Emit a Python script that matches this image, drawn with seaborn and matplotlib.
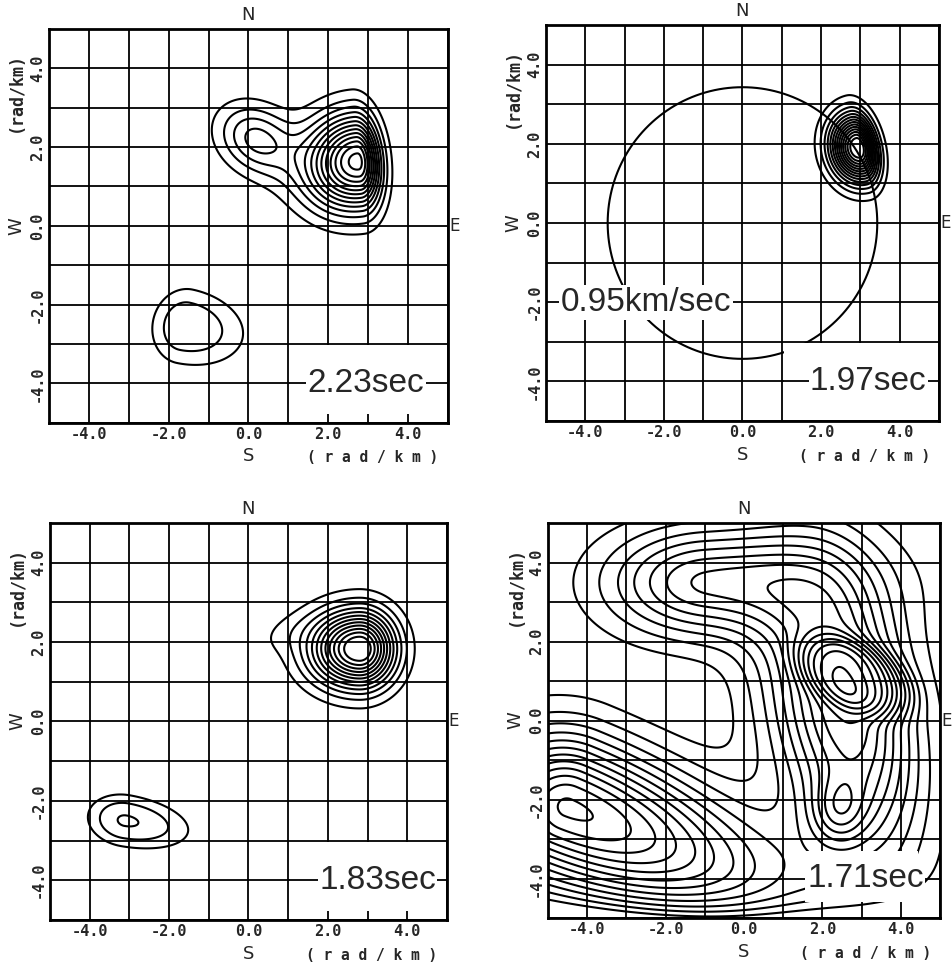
import numpy as np
import pandas as pd
import matplotlib
matplotlib.use("Agg")
import matplotlib.pyplot as plt
import matplotlib.transforms as mtransforms
from matplotlib.patches import Rectangle
import seaborn as sns

# grid / axes
GRID = np.arange(-5, 6)
TICKS = [-4, -2, 0, 2, 4]
TICK_LABELS = ["-4.0", "-2.0", "0.0", "2.0", "4.0"]
PERIOD_LABELS = ["2.23sec", "1.97sec", "1.83sec", "1.71sec"]
PERIOD_LABEL_X = [2.95, 3.2, 3.25, 3.1]

# spectral peaks: centre, amplitude, widths (left/right along u, v),
# tilt in degrees and profile exponent
P1_X = [2.75, 0.2, -1.6, 1.8]
P1_Y = [1.65, 2.2, -2.55, 0.9]
P1_AMP = [0.93, 0.30, 0.18, 0.06]
P1_SUL = [0.85, 0.70, 0.65, 1.0]
P1_SUR = [0.37, 0.70, 1.20, 0.8]
P1_SV = [0.80, 0.55, 0.77, 0.6]
P1_ROT = [5, -35, -12, -25]
P1_POW = [2, 2, 3, 2]
P1_LEVELS = [0.07, 0.14, 0.21, 0.28, 0.35, 0.42, 0.49, 0.56, 0.63, 0.70, 0.77, 0.84, 0.91]

P2_X = [2.95]
P2_Y = [1.9]
P2_AMP = [1.0]
P2_SUL = [0.47]
P2_SUR = [0.30]
P2_SV = [0.58]
P2_ROT = [13]
P2_POW = [2]
P2_LEVELS = [0.065, 0.13, 0.195, 0.26, 0.325, 0.39, 0.455, 0.52, 0.585, 0.65, 0.715, 0.78, 0.845, 0.91]
CIRCLE_RADIUS = 3.43
VELOCITY_LABEL = "0.95km/sec"

P3_X = [2.8, 0.8, -3.1]
P3_Y = [1.83, 2.2, -2.5]
P3_AMP = [1.0, 0.05, 0.23]
P3_SUL = [0.85, 0.6, 0.69]
P3_SUR = [0.61, 0.6, 1.16]
P3_SV = [0.66, 0.35, 0.47]
P3_ROT = [0, 20, -10]
P3_POW = [2, 2, 2.5]
P3_LEVELS = [0.075, 0.15, 0.225, 0.30, 0.375, 0.45, 0.525, 0.60, 0.675, 0.75, 0.825, 0.90]

# ridge, east peak, south-east peak, north tongue, west peak, low along the southern edge
P4_X = [2.6, 2.8, 2.4, -1.0, -4.5, 0.0]
P4_Y = [0.3, 1.15, -2.3, 3.5, -2.2, -6.5]
P4_AMP = [10.0, 4.7, 3.5, 7.0, 12.2, -12.0]
P4_SUL = [1.3, 1.3, 0.5, 1.7, 1.4, 10.0]
P4_SUR = [1.1, 1.3, 0.5, 2.5, 3.8, 10.0]
P4_SV = [2.5, 0.7, 0.6, 0.95, 1.25, 0.92]
P4_ROT = [12, -25, 0, 0, -22, 0]
P4_POW = [2, 4, 2, 2, 2, 2]
P4_LEVELS = [1, 2, 3, 4, 5, 6, 7, 8, 9, 10, 11, 12, 13, 14, 15, 16, 17, 18]

PANELS = [
    (P1_X, P1_Y, P1_AMP, P1_SUL, P1_SUR, P1_SV, P1_ROT, P1_POW, P1_LEVELS),
    (P2_X, P2_Y, P2_AMP, P2_SUL, P2_SUR, P2_SV, P2_ROT, P2_POW, P2_LEVELS),
    (P3_X, P3_Y, P3_AMP, P3_SUL, P3_SUR, P3_SV, P3_ROT, P3_POW, P3_LEVELS),
    (P4_X, P4_Y, P4_AMP, P4_SUL, P4_SUR, P4_SV, P4_ROT, P4_POW, P4_LEVELS),
]

# axes rectangles in figure fraction (left, bottom, width, height)
AX_RECTS = [
    (0.0515, 0.5610, 0.4190, 0.4090),
    (0.5735, 0.5628, 0.4128, 0.4112),
    (0.0525, 0.0447, 0.4170, 0.4123),
    (0.5756, 0.0467, 0.4118, 0.4100),
]
# white label box: x0, x1, y0, y1 in data units
LABEL_BOXES = [
    (1.05, 4.97, -4.78, -3.03),
    (1.05, 4.97, -4.97, -3.03),
    (1.05, 4.97, -4.78, -3.03),
    (1.55, 4.45, -4.6, -3.3),
]

sns.set_style("white")
plt.rcParams["font.family"] = ["DejaVu Sans"]

MONO = {"family": "DejaVu Sans Mono", "weight": "bold", "size": 11}
MONO_S = {"family": "DejaVu Sans Mono", "weight": "bold", "size": 10.5}
NARROW = ["Liberation Sans Narrow", "Liberation Sans", "DejaVu Sans"]

kx = np.linspace(-5.3, 5.3, 425)
KX, KY = np.meshgrid(kx, kx)


def spectrum(xs, ys, amps, suls, surs, svs, rots, pows):
    z = np.zeros_like(KX)
    for x0, y0, a, sul, sur, sv, rot, p in zip(xs, ys, amps, suls, surs, svs, rots, pows):
        th = np.radians(rot)
        dx = KX - x0
        dy = KY - y0
        u = dx * np.cos(th) + dy * np.sin(th)
        v = -dx * np.sin(th) + dy * np.cos(th)
        su = np.where(u < 0, sul, sur)
        r = np.sqrt((u / su) ** 2 + (v / sv) ** 2)
        z += a * np.exp(-0.5 * r ** p)
    return z


fig = plt.figure(figsize=(9.52, 9.63), dpi=100)

for i, (xs, ys, amps, suls, surs, svs, rots, pows, levels) in enumerate(PANELS):
    ax = fig.add_axes(AX_RECTS[i])
    z = spectrum(xs, ys, amps, suls, surs, svs, rots, pows)
    ax.contour(KX, KY, z, levels=levels, colors="black", linewidths=1.5,
               linestyles="solid", zorder=3)

    if i == 1:
        t = np.linspace(0, 2 * np.pi, 361)
        circ = pd.DataFrame({"kx": CIRCLE_RADIUS * np.cos(t), "ky": CIRCLE_RADIUS * np.sin(t)})
        sns.lineplot(data=circ, x="kx", y="ky", sort=False, estimator=None,
                     color="black", linewidth=1.5, ax=ax, zorder=3)
        ax.text(-2.45, -2.0, VELOCITY_LABEL, family=NARROW, fontsize=24,
                ha="center", va="center", zorder=8,
                bbox=dict(facecolor="white", edgecolor="none", pad=1.5))

    ax.set_xlim(-5, 5)
    ax.set_ylim(-5, 5)
    ax.set_xlabel("")
    ax.set_ylabel("")
    ax.set_xticks(GRID)
    ax.set_yticks(GRID)
    ax.set_xticklabels([TICK_LABELS[TICKS.index(g)] if g in TICKS else "" for g in GRID],
                       fontdict=MONO)
    ax.set_yticklabels([TICK_LABELS[TICKS.index(g)] if g in TICKS else "" for g in GRID],
                       fontdict=MONO, rotation=90, va="center")
    ax.tick_params(length=0, pad=3)
    ax.grid(True, color="black", linewidth=1.3)
    ax.set_axisbelow(True)
    for sp in ax.spines.values():
        sp.set_color("black")
        sp.set_linewidth(2)

    # period label in a white box sitting on the -4 line
    bx0, bx1, by0, by1 = LABEL_BOXES[i]
    ax.add_patch(Rectangle((bx0, by0), bx1 - bx0, by1 - by0, facecolor="white",
                           edgecolor="none", zorder=5))
    if i < 3:
        ax.plot([bx0, bx1], [-4, -4], color="black", linewidth=1.3, zorder=6)
    ax.text(PERIOD_LABEL_X[i], -4.0, PERIOD_LABELS[i], family=NARROW, fontsize=24,
            ha="center", va="center", zorder=8,
            bbox=dict(facecolor="white", edgecolor="none", pad=1.0))

    # compass letters and axis unit labels
    tr = mtransforms.blended_transform_factory(ax.transAxes, ax.transData)
    tr2 = mtransforms.blended_transform_factory(ax.transData, ax.transAxes)
    ax.text(0, 1.012, "N", transform=tr2, ha="center", va="bottom", fontsize=13)
    ax.text(0, -0.062, "S", transform=tr2, ha="center", va="top", fontsize=13)
    ax.text(1.004, 0, "E", transform=tr, ha="left", va="center", fontsize=12)
    ax.text(-0.083, 0, "W", transform=tr, ha="center", va="center", fontsize=13, rotation=90)
    ax.text(-0.083, 3.4, "(rad/km)", transform=tr, ha="center", va="center",
            rotation=90, fontdict={"family": "DejaVu Sans Mono", "weight": "bold", "size": 12})
    ax.text(3.1, -0.07, "( r a d / k m )", transform=tr2, ha="center", va="top",
            fontdict=MONO_S)

fig.savefig("out.png", dpi=100, facecolor="white")
